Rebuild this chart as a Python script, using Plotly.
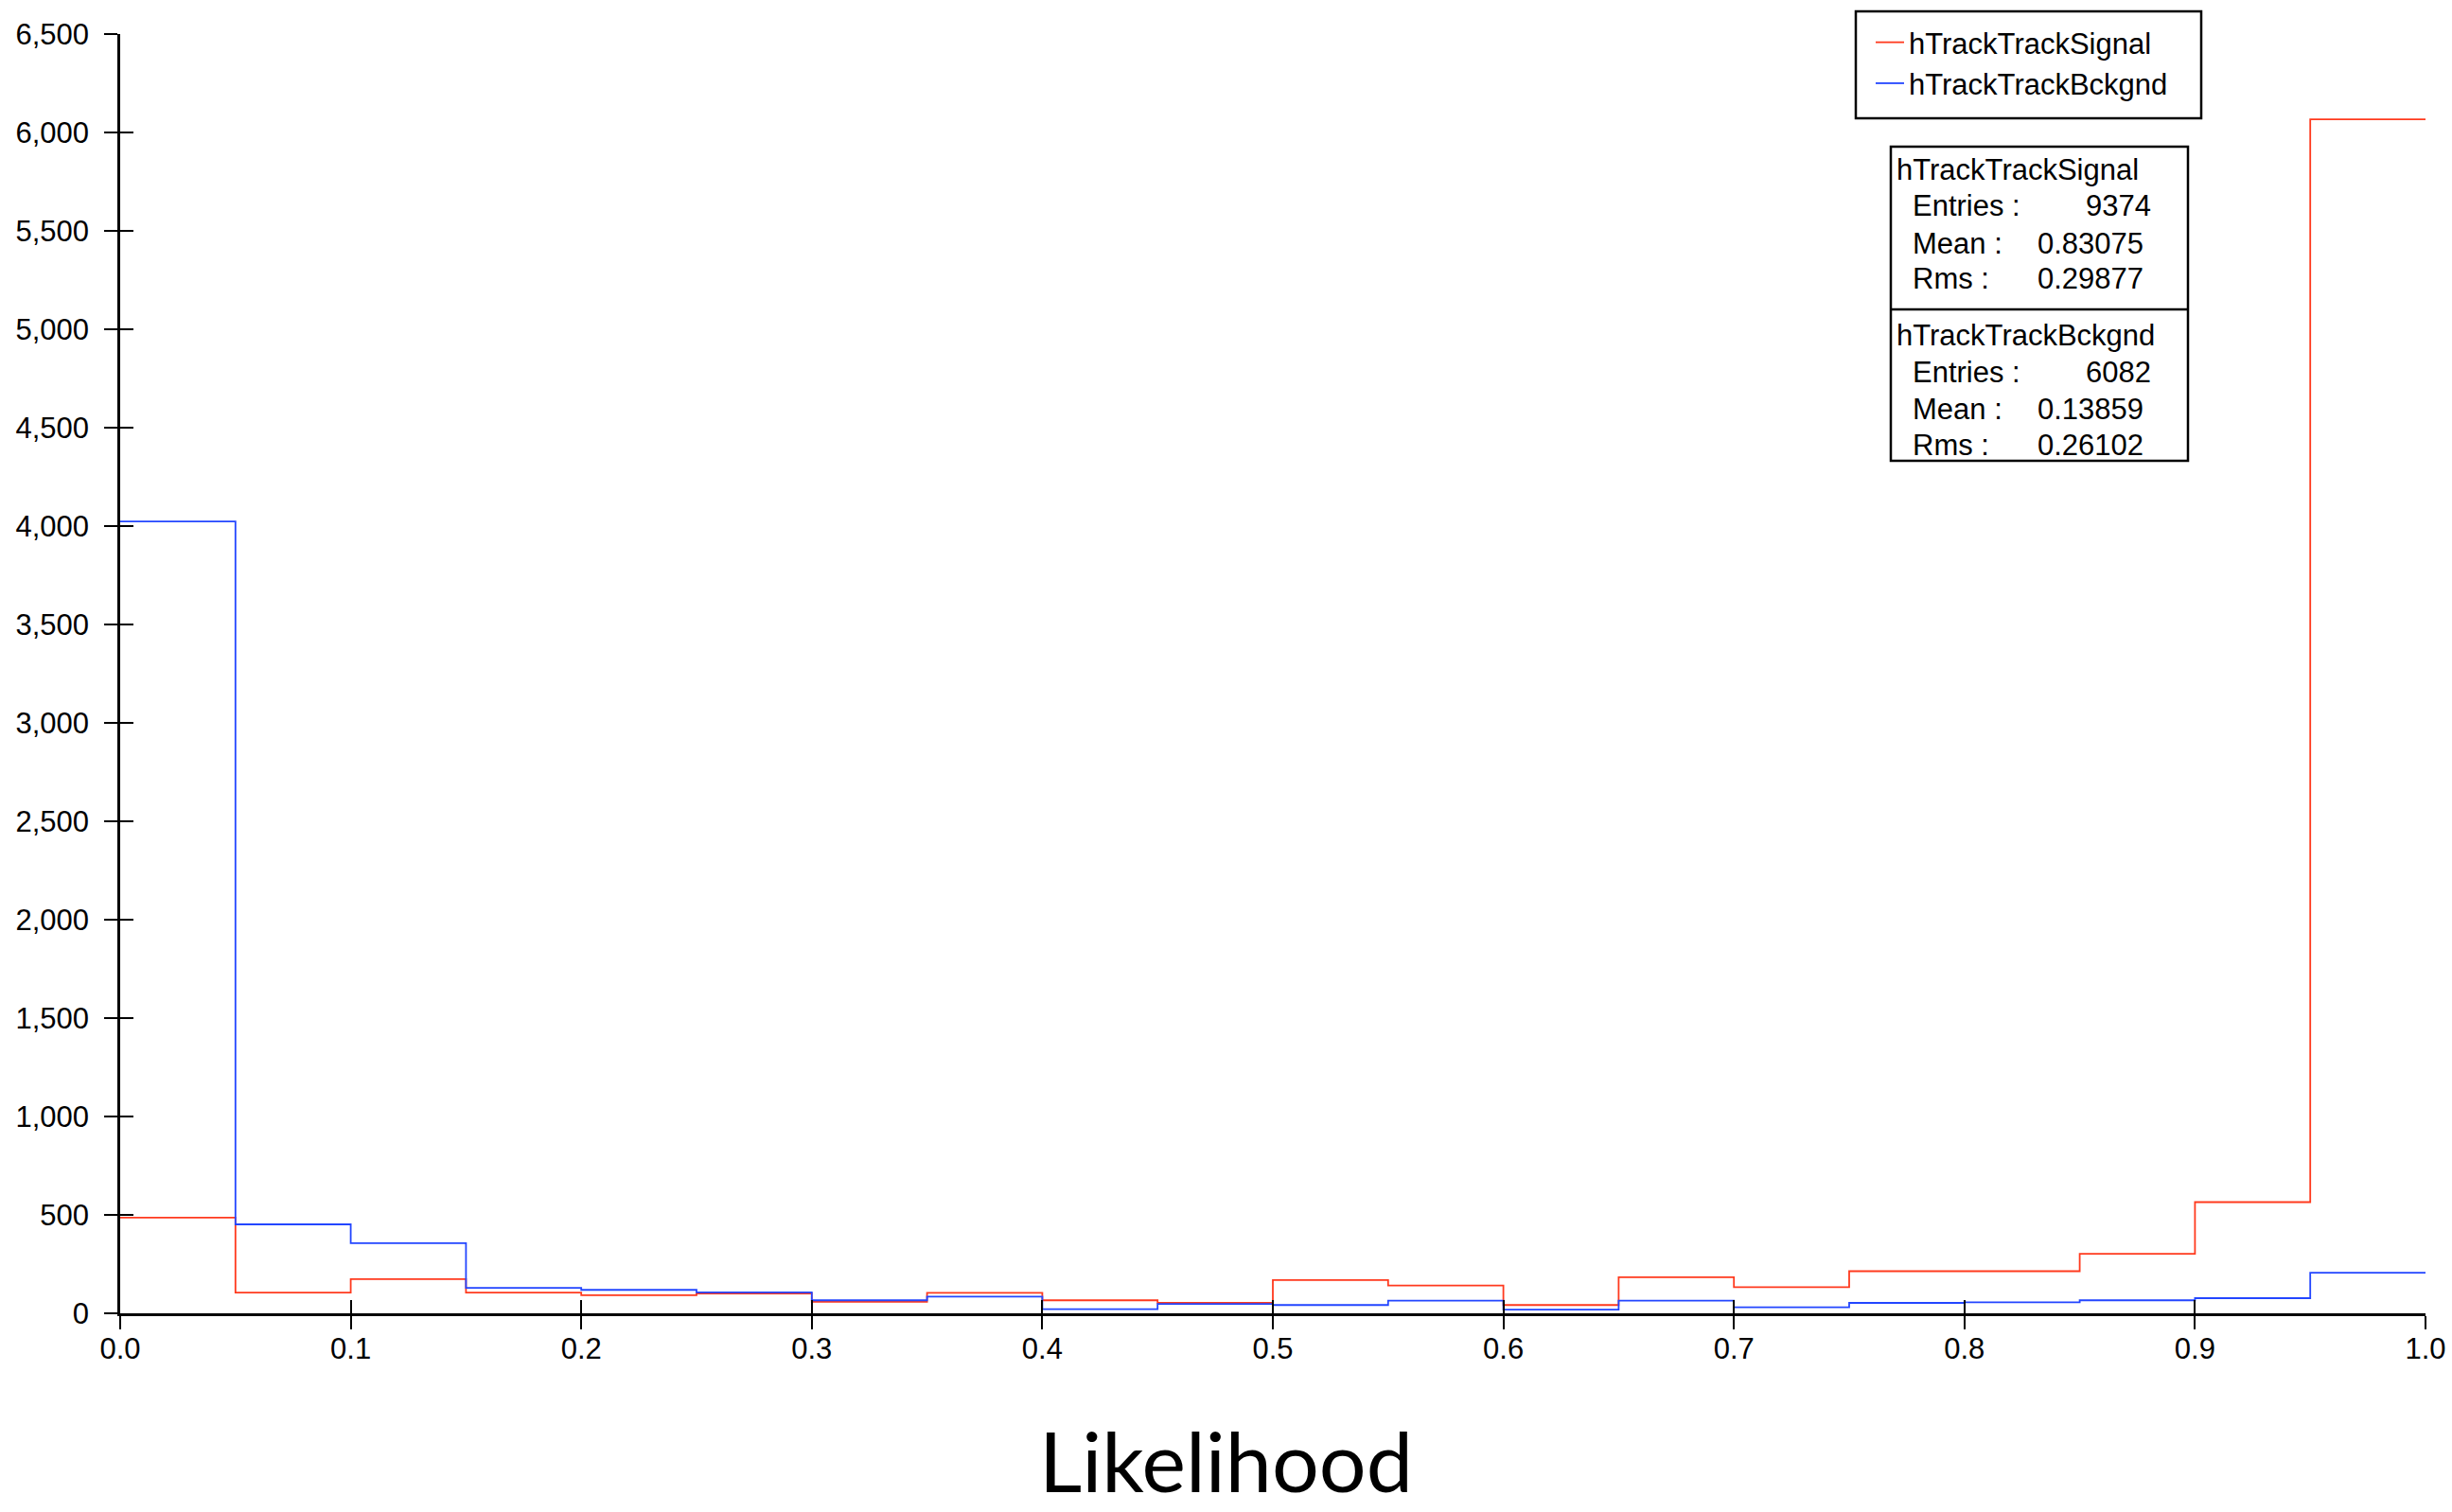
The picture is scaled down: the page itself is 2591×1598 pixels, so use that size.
import plotly.graph_objects as go

# ---------------- data ----------------
bin_edges = [0.00, 0.05, 0.10, 0.15, 0.20, 0.25, 0.30, 0.35, 0.40, 0.45, 0.50,
             0.55, 0.60, 0.65, 0.70, 0.75, 0.80, 0.85, 0.90, 0.95, 1.00]
signal_counts = [486, 105, 174, 105, 92, 101, 58, 104, 66, 53,
                 169, 141, 42, 183, 133, 214, 214, 302, 565, 6067]
bckgnd_counts = [4023, 452, 356, 129, 119, 106, 66, 85, 21, 47,
                 42, 64, 19, 64, 31, 53, 56, 66, 77, 206]
series_names = ["hTrackTrackSignal", "hTrackTrackBckgnd"]
stats_entries = ["9374", "6082"]
stats_mean = ["0.83075", "0.13859"]
stats_rms = ["0.29877", "0.26102"]
x_tickvals = [0.0, 0.1, 0.2, 0.3, 0.4, 0.5, 0.6, 0.7, 0.8, 0.9, 1.0]
y_tickvals = [0, 500, 1000, 1500, 2000, 2500, 3000, 3500, 4000, 4500, 5000, 5500, 6000, 6500]
x_title = "Likelihood"

# ---------------- style ----------------
RED = "#ff3a1e"
BLUE = "#2346ff"
W, H = 2591, 1598
PL, PR, PT, PB = 127, 2563, 36, 1388   # plot area in pixels
FONT = "Liberation Sans, Arial, Helvetica, sans-serif"


def px_x(x):
    return (x - PL) / (PR - PL)


def px_y(y):
    return (PB - y) / (PB - PT)


fig = go.Figure()

for name, counts, color in [(series_names[0], signal_counts, RED),
                            (series_names[1], bckgnd_counts, BLUE)]:
    fig.add_trace(go.Scatter(
        x=bin_edges,
        y=counts + [counts[-1]],
        mode="lines",
        line=dict(shape="hv", color=color, width=1.8),
        name=name,
        hoverinfo="skip",
    ))

# helper trace so the overlay axes (inner halves of the crossing ticks) exist
fig.add_trace(go.Scatter(x=[bin_edges[0]], y=[y_tickvals[0]], xaxis="x2", yaxis="y2",
                         mode="lines", showlegend=False, hoverinfo="skip",
                         line=dict(width=0)))

axis_common = dict(showgrid=False, zeroline=False, tickcolor="black", tickwidth=2,
                   ticklen=14, automargin=False)

fig.update_layout(
    width=W, height=H, autosize=False,
    margin=dict(l=PL, r=W - PR, t=PT, b=H - PB, pad=0, autoexpand=False),
    paper_bgcolor="white", plot_bgcolor="white",
    font=dict(family=FONT, size=31, color="black"),
    xaxis=dict(range=[0, 1], tickvals=x_tickvals, tickformat=".1f", ticks="outside",
               showline=True, linecolor="black", linewidth=2.5,
               tickfont=dict(size=31), ticklabelstandoff=-6, **axis_common),
    yaxis=dict(range=[0, 6500], tickvals=y_tickvals, tickformat=",d", ticks="outside",
               showline=True, linecolor="black", linewidth=2.5,
               tickfont=dict(size=31), ticklabelstandoff=10, **axis_common),
    xaxis2=dict(range=[0, 1], tickvals=x_tickvals, ticks="inside", overlaying="x",
                showticklabels=False, showline=False, anchor="y", **axis_common),
    yaxis2=dict(range=[0, 6500], tickvals=y_tickvals, ticks="inside", overlaying="y",
                showticklabels=False, showline=False, anchor="x", **axis_common),
    legend=dict(xref="container", yref="container", x=1977 / W, y=1 - 18 / H,
                xanchor="left", yanchor="top",
                borderwidth=0, bgcolor="rgba(0,0,0,0)",
                font=dict(size=31, family=FONT)),
    showlegend=True,
)

# legend frame
fig.add_shape(type="rect", xref="paper", yref="paper",
              x0=px_x(1961), x1=px_x(2326), y0=px_y(125), y1=px_y(12),
              line=dict(color="black", width=2.5), layer="above")

# x-axis title, centred on the figure
fig.add_annotation(text=x_title, xref="paper", yref="paper",
                   x=px_x(W / 2), y=px_y(1597), xanchor="center", yanchor="bottom",
                   showarrow=False, borderpad=0,
                   font=dict(family="Lato", size=88, color="black"))

# statistics box
box_l, box_r, box_t, box_b, box_mid = 1998, 2312, 155, 487, 327
fig.add_shape(type="rect", xref="paper", yref="paper",
              x0=px_x(box_l), x1=px_x(box_r), y0=px_y(box_b), y1=px_y(box_t),
              line=dict(color="black", width=2.5), fillcolor="white", layer="above")
fig.add_shape(type="line", xref="paper", yref="paper",
              x0=px_x(box_l), x1=px_x(box_r), y0=px_y(box_mid), y1=px_y(box_mid),
              line=dict(color="black", width=2.5), layer="above")

block_tops = [180, 355]
for i in range(2):
    y0 = block_tops[i]
    rows = [
        (series_names[i], 2002, "left", y0),
        ("Entries :", 2019, "left", y0 + 38),
        ("Mean :", 2019, "left", y0 + 77),
        ("Rms :", 2019, "left", y0 + 115),
        (stats_entries[i], 2275, "right", y0 + 38),
        (stats_mean[i], 2267, "right", y0 + 77),
        (stats_rms[i], 2267, "right", y0 + 115),
    ]
    for txt, xx, anc, yy in rows:
        fig.add_annotation(text=txt, xref="paper", yref="paper", x=px_x(xx), y=px_y(yy),
                           xanchor=anc, yanchor="middle", showarrow=False,
                           font=dict(family=FONT, size=31, color="black"))

fig.write_html("out.html", config={"displayModeBar": False},
               post_script="document.body.style.margin='0';document.body.style.overflow='hidden';")
